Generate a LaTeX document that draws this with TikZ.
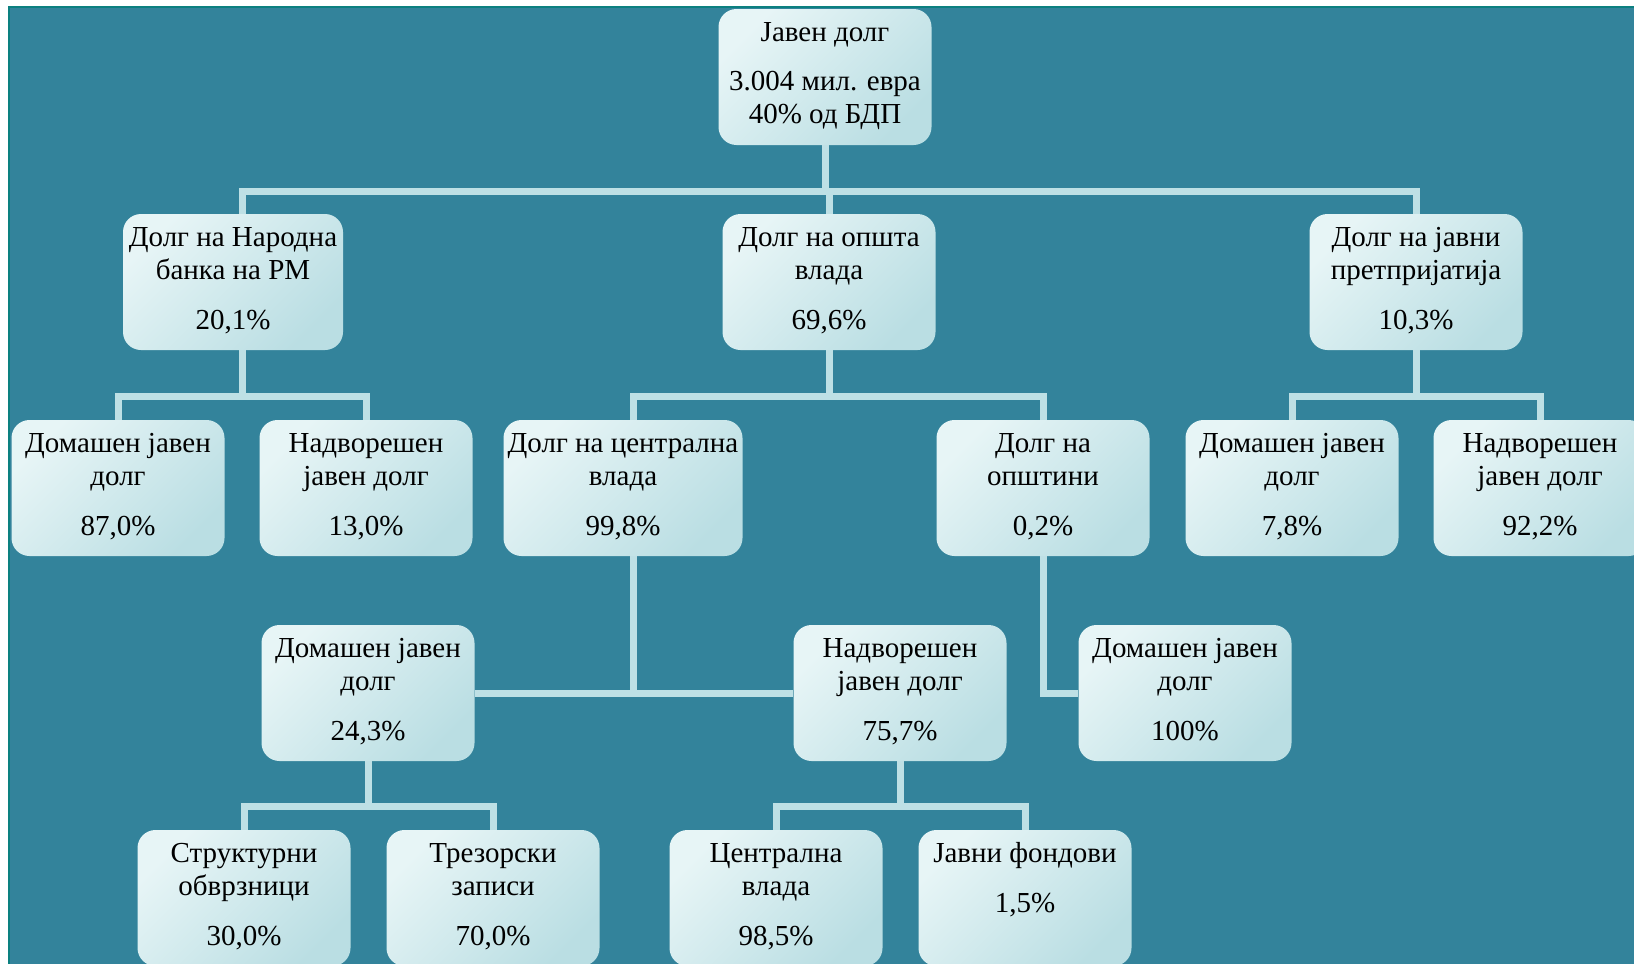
\documentclass[tikz,border=0pt]{standalone}
\usepackage{fontspec}
\setmainfont{Liberation Serif}
\definecolor{sea}{RGB}{51,131,155}
\definecolor{seaedge}{RGB}{12,128,128}
\definecolor{boxlight}{RGB}{231,245,246}
\definecolor{boxdark}{RGB}{186,222,227}
\definecolor{linkc}{RGB}{190,224,229}
\newcommand\cell[2][205pt]{\parbox[c][117pt][t]{#1}{\centering\strut #2}}

\begin{document}
\begin{tikzpicture}[
    x=1pt, y=-1pt,
    box/.style={rounded corners=18pt, minimum width=213pt, minimum height=136pt,
      inner sep=0pt, top color=boxlight, bottom color=boxdark, shading angle=45},
    link/.style={draw=linkc, line width=7pt}
  ]
  \fontsize{29}{33}\selectfont
  \useasboundingbox (0,0) rectangle (1634,964);
  \clip (0,0) rectangle (1634,964);
  \fill[sea] (9,7) rectangle (1660,990);
  \draw[seaedge, line width=2pt] (9,990) -- (9,7) -- (1660,7);

  \node[box] (debt) at (825,77) {\cell{Јавен долг\\[16pt]3.004 мил. евра\\40\% од БДП}};

  \node[box, minimum width=220pt] (nbrm) at (233,282) {\cell[215pt]{Долг на Народна\\банка на РМ\\[17pt]20,1\%}};
  \node[box] (gen) at (829,282) {\cell{Долг на општа\\влада\\[17pt]69,6\%}};
  \node[box] (pub) at (1416,282) {\cell{Долг на јавни\\претпријатија\\[17pt]10,3\%}};

  \node[box] (nbdom) at (118,488) {\cell{Домашен јавен\\долг\\[17pt]87,0\%}};
  \node[box] (nbext) at (366,488) {\cell{Надворешен\\јавен долг\\[17pt]13,0\%}};
  \node[box, minimum width=239pt] (cen) at (623,488) {\cell[235pt]{Долг на централна\\влада\\[17pt]99,8\%}};
  \node[box] (mun) at (1043,488) {\cell{Долг на\\општини\\[17pt]0,2\%}};
  \node[box] (pubdom) at (1292,488) {\cell{Домашен јавен\\долг\\[17pt]7,8\%}};
  \node[box] (pubext) at (1540,488) {\cell{Надворешен\\јавен долг\\[17pt]92,2\%}};

  \node[box] (cendom) at (368,693) {\cell{Домашен јавен\\долг\\[17pt]24,3\%}};
  \node[box] (cenext) at (900,693) {\cell{Надворешен\\јавен долг\\[17pt]75,7\%}};
  \node[box] (mundom) at (1185,693) {\cell{Домашен јавен\\долг\\[17pt]100\%}};

  \node[box] (bonds) at (244,898) {\cell{Структурни\\обврзници\\[17pt]30,0\%}};
  \node[box] (bills) at (493,898) {\cell{Трезорски\\записи\\[17pt]70,0\%}};
  \node[box] (cgov) at (776,898) {\cell{Централна\\влада\\[17pt]98,5\%}};
  \node[box] (funds) at (1025,898) {\cell{Јавни фондови\\[17pt]1,5\%}};

  \coordinate (bus1) at (0,191);
  \coordinate (bus2) at (0,396);
  \coordinate (bus3) at (0,806);

  \draw[link] (debt.south) -- (debt.south |- bus1);
  \draw[link] ([xshift=9pt]nbrm.north) |- (pub.north |- bus1) -- (pub.north);
  \draw[link] (gen.north) -- (gen.north |- bus1);

  \draw[link] ([xshift=9pt]nbrm.south) -- ([xshift=9pt]nbrm.south |- bus2);
  \draw[link] (nbdom.north) |- (nbext.north |- bus2) -- (nbext.north);
  \draw[link] (gen.south) -- (gen.south |- bus2);
  \draw[link] ([xshift=10pt]cen.north) |- (mun.north |- bus2) -- (mun.north);
  \draw[link] (pub.south) -- (pub.south |- bus2);
  \draw[link] (pubdom.north) |- (pubext.north |- bus2) -- (pubext.north);

  \draw[link] ([xshift=10pt]cen.south) -- ([xshift=10pt]cen.south |- cendom.east);
  \draw[link] (cendom.east) -- (cenext.west);
  \draw[link] (mun.south) |- (mundom.west);

  \draw[link] (cendom.south) -- (cendom.south |- bus3);
  \draw[link] (bonds.north) |- (bills.north |- bus3) -- (bills.north);
  \draw[link] (cenext.south) -- (cenext.south |- bus3);
  \draw[link] (cgov.north) |- (funds.north |- bus3) -- (funds.north);
\end{tikzpicture}
\end{document}
